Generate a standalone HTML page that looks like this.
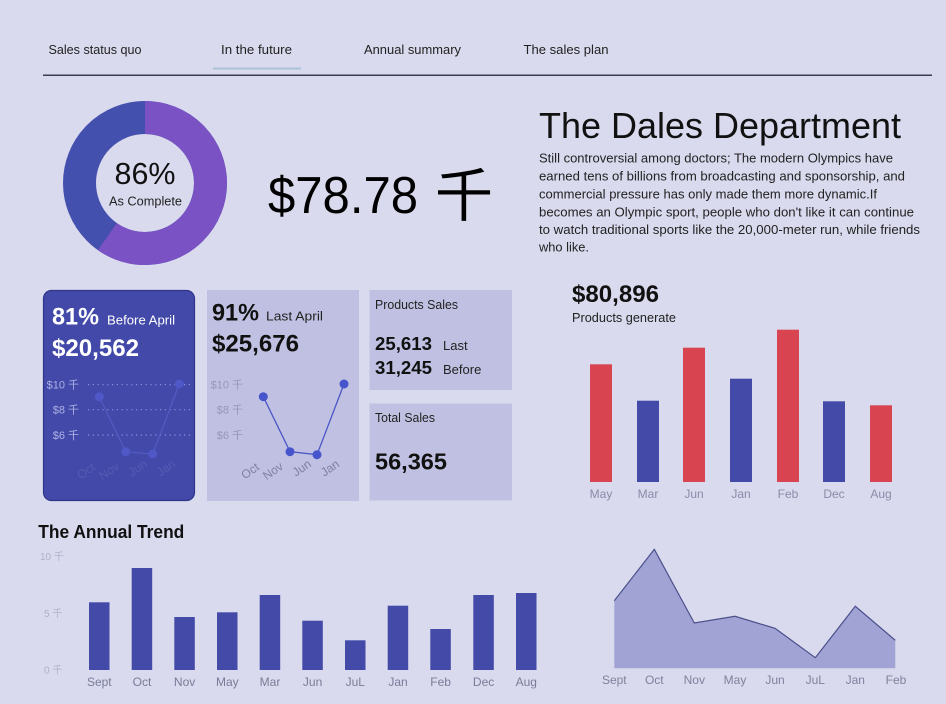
<!DOCTYPE html>
<html><head><meta charset="utf-8"><style>
html,body{margin:0;padding:0;background:#d9daee;}
svg{display:block;}
text{font-family:"Liberation Sans","Noto Sans CJK SC",sans-serif;}
</style></head><body>
<svg width="946" height="704" viewBox="0 0 946 704" xmlns="http://www.w3.org/2000/svg">
<rect width="946" height="704" fill="#d9daee"/>
<!-- nav -->
<g font-size="13" fill="#222">
<text x="48.5" y="54" textLength="93" lengthAdjust="spacingAndGlyphs">Sales status quo</text>
<text x="221" y="54" textLength="71" lengthAdjust="spacingAndGlyphs">In the future</text>
<text x="364" y="54" textLength="97" lengthAdjust="spacingAndGlyphs">Annual summary</text>
<text x="523.5" y="54" textLength="85" lengthAdjust="spacingAndGlyphs">The sales plan</text>
</g>
<line x1="213" y1="68.5" x2="301" y2="68.5" stroke="#a9c4d8" stroke-width="2"/>
<line x1="43" y1="75.3" x2="932" y2="75.3" stroke="#3a3b55" stroke-width="1.5"/>

<!-- donut -->
<circle cx="145" cy="183" r="65.5" fill="none" stroke="#4450ad" stroke-width="33"/>
<circle cx="145" cy="183" r="65.5" fill="none" stroke="#7a52c3" stroke-width="33" stroke-dasharray="245.8 500" transform="rotate(-90 145 183)"/>
<text x="145" y="184" font-size="31" text-anchor="middle" fill="#111" textLength="61" lengthAdjust="spacingAndGlyphs">86%</text>
<text x="145.5" y="205.5" font-size="13" text-anchor="middle" fill="#222" textLength="73" lengthAdjust="spacingAndGlyphs">As Complete</text>

<!-- big number -->
<text x="268" y="213" font-size="52" fill="#000" textLength="150" lengthAdjust="spacingAndGlyphs">$78.78</text>
<text x="435" y="216" font-size="58" fill="#000" font-family="Noto Sans CJK SC, sans-serif">千</text>

<!-- title and paragraph -->
<text x="539" y="138" font-size="36" fill="#111" textLength="362" lengthAdjust="spacingAndGlyphs">The Dales Department</text>
<g font-size="13" fill="#222">
<text x="539" y="162.3" textLength="354" lengthAdjust="spacingAndGlyphs">Still controversial among doctors; The modern Olympics have</text>
<text x="539" y="180.3" textLength="366" lengthAdjust="spacingAndGlyphs">earned tens of billions from broadcasting and sponsorship, and</text>
<text x="539" y="198.3" textLength="338" lengthAdjust="spacingAndGlyphs">commercial pressure has only made them more dynamic.If</text>
<text x="539" y="216.3" textLength="375" lengthAdjust="spacingAndGlyphs">becomes an Olympic sport, people who don't like it can continue</text>
<text x="539" y="233.8" textLength="381" lengthAdjust="spacingAndGlyphs">to watch traditional sports like the 20,000-meter run, while friends</text>
<text x="539" y="251.3" textLength="50" lengthAdjust="spacingAndGlyphs">who like.</text>
</g>

<!-- card 1 (blue) -->
<rect x="43.5" y="290.5" width="151" height="210" rx="8" fill="#4249a9" stroke="#2e3488" stroke-width="1.2"/>
<text x="52" y="324.3" font-size="24" font-weight="bold" fill="#fff" textLength="47" lengthAdjust="spacingAndGlyphs">81%</text>
<text x="107" y="324.3" font-size="13" fill="#fff" textLength="68" lengthAdjust="spacingAndGlyphs">Before April</text>
<text x="52" y="356" font-size="24" font-weight="bold" fill="#fff" textLength="87" lengthAdjust="spacingAndGlyphs">$20,562</text>
<g font-size="11" fill="#aeb2e4" text-anchor="end">
<text x="79" y="388.7">$10 千</text>
<text x="79" y="413.7">$8 千</text>
<text x="79" y="439">$6 千</text>
</g>
<g stroke="#8f95dc" stroke-width="1.2" stroke-dasharray="1.2 3.6">
<line x1="88" y1="384.7" x2="191" y2="384.7"/>
<line x1="88" y1="409.7" x2="191" y2="409.7"/>
<line x1="88" y1="435" x2="191" y2="435"/>
</g>
<polyline points="99.3,396.7 125.7,451.7 152.7,454 179.3,384" fill="none" stroke="#525cc2" stroke-width="1.2"/>
<g fill="#4f58c6">
<circle cx="99.3" cy="396.7" r="4.5"/><circle cx="125.7" cy="451.7" r="4.5"/><circle cx="152.7" cy="454" r="4.5"/><circle cx="179.3" cy="384" r="4.5"/>
</g>
<g font-size="12" fill="#535cb2" text-anchor="middle">
<text x="86" y="475" transform="rotate(-35 86 470.7)">Oct</text>
<text x="109" y="475" transform="rotate(-35 109 471)">Nov</text>
<text x="137.7" y="472" transform="rotate(-35 137.7 468)">Jun</text>
<text x="166" y="472" transform="rotate(-35 166 468)">Jan</text>
</g>

<!-- card 2 -->
<rect x="207" y="290" width="152" height="211" fill="#c0c1e2"/>
<text x="212" y="320.7" font-size="24" font-weight="bold" fill="#111" textLength="47" lengthAdjust="spacingAndGlyphs">91%</text>
<text x="266" y="320.7" font-size="13" fill="#222" textLength="57" lengthAdjust="spacingAndGlyphs">Last  April</text>
<text x="212" y="351.7" font-size="24" font-weight="bold" fill="#111" textLength="87" lengthAdjust="spacingAndGlyphs">$25,676</text>
<g font-size="11" fill="#9495ba" text-anchor="end">
<text x="243" y="388.7">$10 千</text>
<text x="243" y="413.7">$8 千</text>
<text x="243" y="439">$6 千</text>
</g>
<polyline points="263.3,396.7 290,451.7 317,454.7 344,384" fill="none" stroke="#4a56c6" stroke-width="1.3"/>
<g fill="#4655cc">
<circle cx="263.3" cy="396.7" r="4.5"/><circle cx="290" cy="451.7" r="4.5"/><circle cx="317" cy="454.7" r="4.5"/><circle cx="344" cy="384" r="4.5"/>
</g>
<g font-size="12" fill="#7f80a3" text-anchor="middle">
<text x="250" y="475" transform="rotate(-35 250 470.7)">Oct</text>
<text x="273" y="475" transform="rotate(-35 273 471)">Nov</text>
<text x="301.7" y="472" transform="rotate(-35 301.7 468)">Jun</text>
<text x="330" y="472" transform="rotate(-35 330 468)">Jan</text>
</g>

<!-- card 3 -->
<rect x="369.5" y="290" width="142.5" height="100" fill="#c0c1e2"/>
<text x="375" y="309" font-size="13" fill="#222" textLength="83" lengthAdjust="spacingAndGlyphs">Products Sales</text>
<text x="375" y="350" font-size="18" font-weight="bold" fill="#111" textLength="57" lengthAdjust="spacingAndGlyphs">25,613</text>
<text x="443" y="350" font-size="13" fill="#222">Last</text>
<text x="375" y="374" font-size="18" font-weight="bold" fill="#111" textLength="57" lengthAdjust="spacingAndGlyphs">31,245</text>
<text x="443" y="374" font-size="13" fill="#222">Before</text>

<!-- card 4 -->
<rect x="369.5" y="403.5" width="142.5" height="97" fill="#c0c1e2"/>
<text x="375" y="422" font-size="13" fill="#222" textLength="60" lengthAdjust="spacingAndGlyphs">Total Sales</text>
<text x="375" y="469.5" font-size="23.5" font-weight="bold" fill="#111" textLength="72" lengthAdjust="spacingAndGlyphs">56,365</text>

<!-- right bar chart -->
<text x="572" y="302" font-size="24" font-weight="bold" fill="#111" textLength="87" lengthAdjust="spacingAndGlyphs">$80,896</text>
<text x="572" y="322" font-size="13" fill="#222" textLength="104" lengthAdjust="spacingAndGlyphs">Products generate</text>
<g>
<rect x="590" y="364.3" width="22" height="117.7" fill="#d8444f"/>
<rect x="637" y="400.7" width="22" height="81.3" fill="#434aa8"/>
<rect x="683" y="347.7" width="22" height="134.3" fill="#d8444f"/>
<rect x="730" y="378.7" width="22" height="103.3" fill="#434aa8"/>
<rect x="777" y="329.7" width="22" height="152.3" fill="#d8444f"/>
<rect x="823" y="401.3" width="22" height="80.7" fill="#434aa8"/>
<rect x="870" y="405.3" width="22" height="76.7" fill="#d8444f"/>
</g>
<g font-size="12" fill="#8a8ba8" text-anchor="middle">
<text x="601" y="498">May</text>
<text x="648" y="498">Mar</text>
<text x="694" y="498">Jun</text>
<text x="741" y="498">Jan</text>
<text x="788" y="498">Feb</text>
<text x="834" y="498">Dec</text>
<text x="881" y="498">Aug</text>
</g>

<!-- annual trend -->
<text x="38.3" y="538" font-size="18" font-weight="bold" fill="#111" textLength="146" lengthAdjust="spacingAndGlyphs">The Annual Trend</text>
<g font-size="10" fill="#b0b1c9">
<text x="40" y="560">10 千</text>
<text x="44" y="617">5 千</text>
<text x="44" y="673.5">0 千</text>
</g>
<g fill="#434aa8">
<rect x="89" y="602.3" width="20.5" height="67.7"/>
<rect x="131.7" y="568" width="20.5" height="102"/>
<rect x="174.3" y="617" width="20.5" height="53"/>
<rect x="217" y="612.3" width="20.5" height="57.7"/>
<rect x="259.7" y="595" width="20.5" height="75"/>
<rect x="302.3" y="620.7" width="20.5" height="49.3"/>
<rect x="345" y="640.3" width="20.5" height="29.7"/>
<rect x="387.7" y="605.7" width="20.5" height="64.3"/>
<rect x="430.3" y="629" width="20.5" height="41"/>
<rect x="473.3" y="595" width="20.5" height="75"/>
<rect x="516" y="593" width="20.5" height="77"/>
</g>
<g font-size="12" fill="#7a7b98" text-anchor="middle">
<text x="99.3" y="686">Sept</text>
<text x="142" y="686">Oct</text>
<text x="184.6" y="686">Nov</text>
<text x="227.3" y="686">May</text>
<text x="270" y="686">Mar</text>
<text x="312.6" y="686">Jun</text>
<text x="355.3" y="686">JuL</text>
<text x="398" y="686">Jan</text>
<text x="440.6" y="686">Feb</text>
<text x="483.6" y="686">Dec</text>
<text x="526.3" y="686">Aug</text>
</g>

<!-- area chart -->
<polygon points="614.3,668.3 614.3,600.7 654.3,549.3 694.3,623 735,616.3 775,628.3 815.3,657.7 855.3,606.3 895.3,640.3 895.3,668.3" fill="#a1a3d4"/>
<polyline points="614.3,600.7 654.3,549.3 694.3,623 735,616.3 775,628.3 815.3,657.7 855.3,606.3 895.3,640.3" fill="none" stroke="#4b4f8a" stroke-width="1.2"/>
<g font-size="12" fill="#80809c" text-anchor="middle">
<text x="614.3" y="684">Sept</text>
<text x="654.3" y="684">Oct</text>
<text x="694.3" y="684">Nov</text>
<text x="735" y="684">May</text>
<text x="775" y="684">Jun</text>
<text x="815.3" y="684">JuL</text>
<text x="855.3" y="684">Jan</text>
<text x="896" y="684">Feb</text>
</g>
</svg>
</body></html>
